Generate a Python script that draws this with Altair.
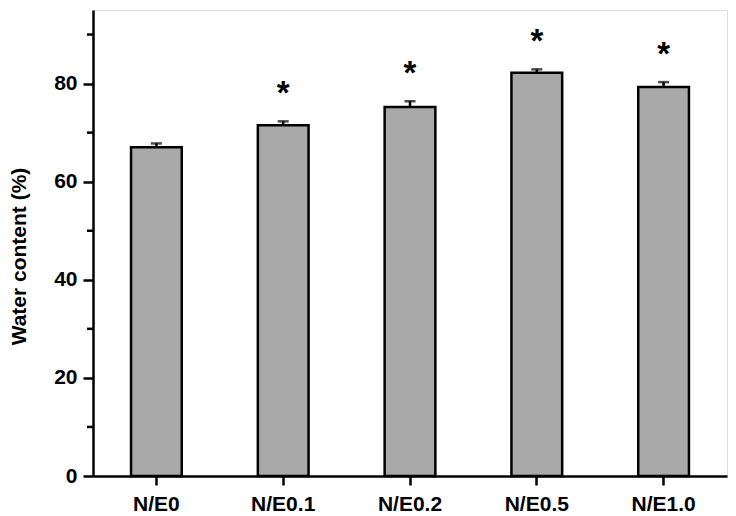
import altair as alt
import pandas as pd

categories = ["N/E0", "N/E0.1", "N/E0.2", "N/E0.5", "N/E1.0"]
values = [67.0, 71.5, 75.2, 82.2, 79.3]
errors = [0.8, 0.8, 1.2, 0.7, 1.0]
stars = ["", "*", "*", "*", "*"]
major_ticks = [0, 20, 40, 60, 80]
minor_ticks = [10, 30, 50, 70, 90]

df = pd.DataFrame({"cat": categories, "val": values, "err": errors, "star": stars})
df["top"] = df["val"] + df["err"]
minor_df = pd.DataFrame({"v": minor_ticks})

FONT = "Liberation Sans"

x = alt.X("cat:N", sort=categories, title=None,
          scale=alt.Scale(paddingInner=0.6, paddingOuter=0.3),
          axis=alt.Axis(labelAngle=0, labelFont=FONT, labelFontSize=21, labelFontWeight="bold",
                        labelColor="black", labelPadding=8, tickSize=9, tickWidth=2.5,
                        tickColor="black", domainColor="black", domainWidth=2.5))
yscale = alt.Scale(domain=[0, 95], nice=False)

bars = alt.Chart(df).mark_bar(color="#a9a9a9", stroke="black", strokeWidth=2.5).encode(
    x=x,
    y=alt.Y("val:Q", scale=yscale, title="Water content (%)",
            axis=alt.Axis(values=major_ticks, labelFont=FONT, labelFontSize=21, labelFontWeight="bold",
                          labelColor="black", labelPadding=6, tickSize=10, tickWidth=2.5,
                          tickColor="black", domainColor="black", domainWidth=2.5, grid=False,
                          titleFont=FONT, titleFontSize=21, titleFontWeight="bold", titleColor="black",
                          titlePadding=24, titleY=246)),
)

err_rule = alt.Chart(df).mark_rule(color="black", strokeWidth=2.5).encode(
    x=alt.X("cat:N", sort=categories), y=alt.Y("val:Q", scale=yscale), y2="top:Q")

err_cap = alt.Chart(df).mark_tick(color="black", thickness=2.5, size=11).encode(
    x=alt.X("cat:N", sort=categories), y=alt.Y("top:Q", scale=yscale))

star_text = alt.Chart(df).mark_text(font=FONT, fontSize=33, fontWeight="bold", color="black",
                                    baseline="alphabetic", dy=-17).encode(
    x=alt.X("cat:N", sort=categories), y=alt.Y("top:Q", scale=yscale), text="star:N")

minor = alt.Chart(minor_df).mark_rule(color="black", strokeWidth=2.5).encode(
    y=alt.Y("v:Q", scale=yscale), x=alt.value(-6), x2=alt.value(0))

chart = alt.layer(bars, err_rule, err_cap, star_text, minor).properties(
    width=634, height=466,
    autosize=alt.AutoSizeParams(type="none"),
    padding={"left": 85, "top": 2, "right": 1, "bottom": 38},
).configure_view(stroke="black", strokeWidth=2.5).configure(background="white")

chart.save("out.html", embed_options={"renderer": "svg", "actions": False})
